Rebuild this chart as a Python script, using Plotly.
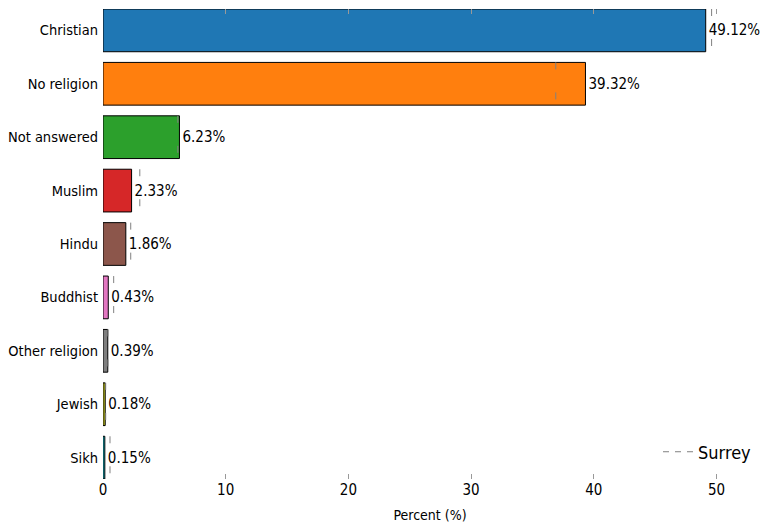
import plotly.graph_objects as go

# religion shares for the area vs Surrey as a whole (2021 census, percent)
categories = ['Christian', 'No religion', 'Not answered', 'Muslim', 'Hindu',
              'Buddhist', 'Other religion', 'Jewish', 'Sikh']
area_pct = [49.12, 39.32, 6.23, 2.33, 1.86, 0.43, 0.39, 0.18, 0.15]
surrey_pct = [49.6, 36.9, 6.1, 3.0, 2.26, 0.87, 0.40, 0.22, 0.57]
bar_colors = ['#1f77b4', '#ff7f0e', '#2ca02c', '#d62728', '#8c564b',
              '#e377c2', '#7f7f7f', '#bcbd22', '#17becf']

FONT = 'DejaVu Sans Condensed, DejaVu Sans, sans-serif'
pos = list(range(len(categories)))
half = 0.4

fig = go.Figure()

# bars with percent labels
fig.add_trace(go.Bar(
    x=area_pct, y=pos, orientation='h', width=2 * half,
    marker=dict(color=bar_colors, line=dict(color='black', width=1)),
    text=[f'{v:.2f}%' for v in area_pct], textposition='outside',
    textfont=dict(size=15, color='black', family=FONT),
    cliponaxis=False, showlegend=False, hoverinfo='skip'
))

# Surrey reference marks, one short dashed line per bar
sx, sy = [], []
for p, s in zip(pos, surrey_pct):
    sx += [s, s, None]
    sy += [p - half, p + half, None]
fig.add_trace(go.Scatter(
    x=sx, y=sy, mode='lines', name='Surrey', showlegend=False,
    line=dict(color='gray', width=1, dash='7px,23px'), hoverinfo='skip'
))
# legend entry only
fig.add_trace(go.Scatter(
    x=[None], y=[None], mode='lines', name='Surrey',
    line=dict(color='gray', width=1, dash='6px,6px')
))

# page body has an 8px offset, so margins are shifted to compensate
fig.update_layout(
    width=774, height=532,
    margin=dict(l=95, r=25, t=1, b=61),
    plot_bgcolor='white', paper_bgcolor='white',
    font=dict(family=FONT, size=15, color='black'),
    legend=dict(x=1.0, y=0.018, xanchor='right', yanchor='bottom',
                font=dict(size=18), bgcolor='rgba(0,0,0,0)',
                itemwidth=30),
    xaxis=dict(range=[0, 53.3], tickvals=[0, 10, 20, 30, 40, 50],
               ticks='inside', ticklen=5, tickcolor='#999999', mirror='ticks',
               showline=False, showgrid=False, zeroline=False,
               automargin=False,
               title=dict(text='Percent (%)', font=dict(size=14), standoff=12)),
    yaxis=dict(range=[len(categories) - 1 + half, -half], tickvals=pos,
               ticktext=categories, ticks='', showline=False, showgrid=False,
               zeroline=False, ticklabelstandoff=4, automargin=False,
               tickfont=dict(size=14.5)),
)

fig.write_html('out.html')
